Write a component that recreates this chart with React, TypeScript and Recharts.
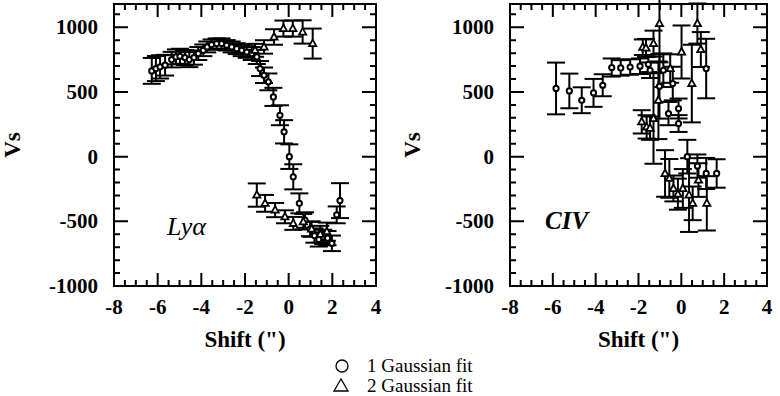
import { ScatterChart, Scatter, XAxis, YAxis, ErrorBar, ReferenceArea } from "recharts"

// x ticks every 0.5", y ticks every 100 km/s
const xTicks = [-8, -7.5, -7, -6.5, -6, -5.5, -5, -4.5, -4, -3.5, -3, -2.5, -2, -1.5, -1, -0.5, 0, 0.5, 1, 1.5, 2, 2.5, 3, 3.5, 4]
const yTicks = [-1000, -900, -800, -700, -600, -500, -400, -300, -200, -100, 0, 100, 200, 300, 400, 500, 600, 700, 800, 900, 1000, 1100]

// Ly-alpha, 1 Gaussian fit
const lyaOneX = [-6.27, -6.08, -5.89, -5.66, -5.36, -5.16, -4.98, -4.75, -4.55, -4.34, -4.14, -3.91, -3.73, -3.53, -3.3, -3.07, -2.84, -2.61, -2.38, -2.15, -1.92, -1.69, -1.46, -1.31, -1.13, -0.93, -0.7, -0.4, -0.21, 0.03, 0.21, 0.49, 0.75, 0.98, 1.18, 1.38, 1.58, 1.78, 1.98, 2.2, 2.35]
const lyaOneY = [663, 681, 694, 707, 750, 771, 776, 766, 750, 766, 797, 822, 848, 866, 874, 874, 861, 848, 835, 822, 809, 797, 771, 681, 629, 578, 462, 320, 192, 0, -156, -361, -490, -560, -610, -640, -620, -630, -670, -450, -340]
const lyaOneErr = [100, 97, 90, 80, 60, 58, 58, 58, 58, 55, 50, 45, 42, 40, 40, 40, 40, 42, 42, 45, 45, 50, 55, 58, 60, 65, 70, 77, 90, 95, 97, 77, 60, 55, 55, 55, 55, 55, 60, 65, 135]

// Ly-alpha, 2 Gaussian fit
const lyaTwoX = [-1.54, -1.13, -0.67, -0.24, 0.19, 0.64, 1.1, -1.46, -1.08, -0.62, -0.17, 0.21, 0.67, 1.05, 1.45, 1.75]
const lyaTwoY = [822, 848, 925, 990, 990, 964, 874, -297, -361, -413, -465, -516, -503, -560, -600, -580]
const lyaTwoErr = [50, 52, 60, 62, 62, 90, 116, 90, 65, 55, 50, 50, 60, 60, 65, 70]

// CIV, 1 Gaussian fit
const civOneX = [-5.85, -5.23, -4.65, -4.1, -3.67, -3.25, -2.83, -2.39, -1.93, -1.54, -1.46, -1.02, -0.84, -0.6, -0.4, -0.13, -0.13, 0.28, 0.75, 1.16, 1.16, 1.65]
const civOneY = [527, 508, 436, 493, 552, 689, 686, 693, 699, 714, 668, 544, 668, 333, 565, 372, 256, 0, -73, 681, -130, -130]
const civOneErr = [200, 134, 100, 108, 85, 70, 60, 60, 60, 60, 60, 250, 130, 90, 130, 77, 65, 130, 90, 230, 120, 110]

// CIV, 2 Gaussian fit
const civTwoX = [-1.85, -1.8, -1.65, -1.62, -1.46, -1.3, -1.3, -1.07, -1.02, -0.76, -0.56, -0.52, -0.37, -0.16, 0.01, 0.07, 0.36, 0.49, 0.53, 0.75, 0.8, 0.91, 1.19]
const civTwoY = [269, 846, 840, 230, 220, 874, 295, 436, 1029, -130, -168, 681, -246, -290, 809, -246, -297, 565, -361, 1029, -181, 828, -361]
const civTwoErr = [90, 60, 70, 90, 90, 100, 350, 300, 300, 180, 150, 110, 100, 120, 205, 150, 285, 300, 130, 155, 130, 135, 210]

const toPoints = (xs: number[], ys: number[], es: number[]) => xs.map((x, i) => ({ x, y: ys[i], err: es[i] }))

const FONT = '"Liberation Serif", "Times New Roman", serif'
const X_DOMAIN = [-8, 4]
const Y_DOMAIN = [-1000, 1180]
const TOP = 4
const BOTTOM = 286
const H = 360

const Circle = (p: any) => <circle cx={p.cx} cy={p.cy} r={2.6} fill="#fff" stroke="#000" strokeWidth={2} />
const Triangle = (p: any) => (
  <polygon
    points={`${p.cx},${p.cy - 4} ${p.cx - 3.6},${p.cy + 2.6} ${p.cx + 3.6},${p.cy + 2.6}`}
    fill="#fff"
    stroke="#000"
    strokeWidth={1.8}
  />
)

function Panel({ one, two, left, width, plotLeft, plotRight }: any) {
  const pl = plotLeft - left
  const pr = plotRight - left
  const plotW = pr - pl
  const plotH = BOTTOM - TOP

  const renderXTick = (p: any) => {
    const v = p.payload.value
    if (Math.abs(v % 2) > 1e-9) return <g />
    return (
      <text x={p.x} y={BOTTOM + 28} textAnchor="middle" fontFamily={FONT} fontWeight="bold" fontSize={21} fill="#000">
        {v}
      </text>
    )
  }
  const renderYTick = (p: any) => {
    const v = p.payload.value
    if (v % 500 !== 0) return <g />
    return (
      <text x={pl - 16} y={p.y + 7} textAnchor="end" fontFamily={FONT} fontWeight="bold" fontSize={21} fill="#000">
        {v}
      </text>
    )
  }

  // inward tick marks on all four sides of the frame
  const px = (v: number) => pl + ((v - X_DOMAIN[0]) / (X_DOMAIN[1] - X_DOMAIN[0])) * plotW
  const py = (v: number) => TOP + ((Y_DOMAIN[1] - v) / (Y_DOMAIN[1] - Y_DOMAIN[0])) * plotH
  let tickPath = ""
  xTicks.forEach((v) => {
    const len = Math.abs(v % 2) < 1e-9 ? 13 : 6
    const x = px(v)
    tickPath += `M${x},${BOTTOM}V${BOTTOM - len}M${x},${TOP}V${TOP + len}`
  })
  yTicks.forEach((v) => {
    const len = v % 500 === 0 ? 14 : 6
    const y = py(v)
    tickPath += `M${pl},${y}H${pl + len}M${pr},${y}H${pr - len}`
  })

  return (
    <div style={{ position: "absolute", left, top: 0, width, height: H }}>
      <ScatterChart width={width} height={H} margin={{ top: TOP, right: width - pr, bottom: 0, left: 0 }}>
        <XAxis
          type="number"
          dataKey="x"
          domain={X_DOMAIN}
          ticks={xTicks}
          interval={0}
          allowDataOverflow
          height={H - BOTTOM}
          tickSize={0}
          tickLine={{ stroke: "none" }}
          axisLine={{ stroke: "none" }}
          tick={renderXTick}
        />
        <YAxis
          type="number"
          dataKey="y"
          domain={Y_DOMAIN}
          ticks={yTicks}
          interval={0}
          allowDataOverflow
          width={pl}
          tickSize={0}
          tickLine={{ stroke: "none" }}
          axisLine={{ stroke: "none" }}
          tick={renderYTick}
        />
        <ReferenceArea x1={X_DOMAIN[0]} x2={X_DOMAIN[1]} y1={Y_DOMAIN[0]} y2={Y_DOMAIN[1]} fill="none" stroke="#000" strokeWidth={2} />
        <Scatter data={one} isAnimationActive={false} shape={Circle}>
          <ErrorBar dataKey="err" direction="y" width={9} stroke="#000" strokeWidth={2} />
        </Scatter>
        <Scatter data={two} isAnimationActive={false} shape={Triangle}>
          <ErrorBar dataKey="err" direction="y" width={9} stroke="#000" strokeWidth={2} />
        </Scatter>
      </ScatterChart>
      <svg style={{ position: "absolute", left: 0, top: 0, pointerEvents: "none" }} width={width} height={H}>
        <path d={tickPath} stroke="#000" strokeWidth={2} fill="none" />
      </svg>
      <div
        style={{
          position: "absolute",
          left: 0,
          top: TOP + plotH / 2 - 12,
          width: 26,
          height: 24,
          lineHeight: "24px",
          textAlign: "center",
          transform: "rotate(-90deg)",
          fontWeight: "bold",
          fontSize: 23,
        }}
      >
        Vs
      </div>
      <div
        style={{
          position: "absolute",
          left: pl,
          width: plotW,
          top: BOTTOM + 40,
          textAlign: "center",
          fontWeight: "bold",
          fontSize: 23,
          lineHeight: "28px",
        }}
      >
        Shift (")
      </div>
    </div>
  )
}

export default function App() {
  return (
    <div style={{ position: "absolute", left: 0, top: 0, width: 780, height: 396, background: "#fff", fontFamily: FONT }}>
      <Panel
        one={toPoints(lyaOneX, lyaOneY, lyaOneErr)}
        two={toPoints(lyaTwoX, lyaTwoY, lyaTwoErr)}
        left={0}
        width={400}
        plotLeft={114}
        plotRight={376}
      />
      <Panel
        one={toPoints(civOneX, civOneY, civOneErr)}
        two={toPoints(civTwoX, civTwoY, civTwoErr)}
        left={400}
        width={380}
        plotLeft={510}
        plotRight={767}
      />
      <div style={{ position: "absolute", left: 167, top: 212, fontSize: 26, fontStyle: "italic" }}>Lyα</div>
      <div style={{ position: "absolute", left: 545, top: 207, fontSize: 25, fontStyle: "italic", fontWeight: "bold" }}>CIV</div>
      <svg style={{ position: "absolute", left: 320, top: 352 }} width={200} height={44}>
        <circle cx={22} cy={14} r={6} fill="none" stroke="#000" strokeWidth={1.3} />
        <text x={47} y={20} fontFamily={FONT} fontSize={19} fill="#000">1 Gaussian fit</text>
        <polygon points="21,27 14,39 28,39" fill="none" stroke="#000" strokeWidth={1.3} />
        <text x={47} y={40} fontFamily={FONT} fontSize={19} fill="#000">2 Gaussian fit</text>
      </svg>
    </div>
  )
}
